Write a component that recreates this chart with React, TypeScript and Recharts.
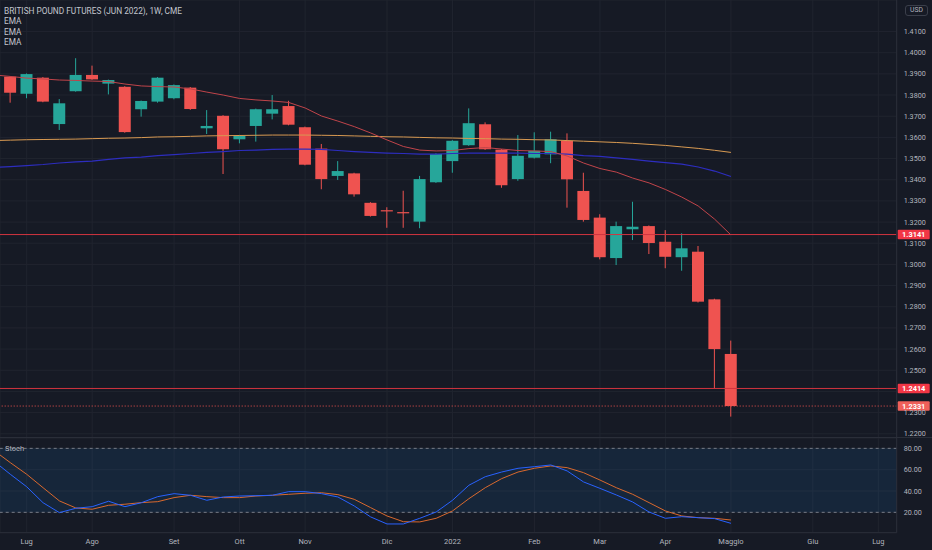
import React from 'react';
import { ComposedChart, Bar, Line, XAxis, YAxis, CartesianGrid, ReferenceLine, ReferenceArea } from 'recharts';

// weekly bars, index 0 = week of 28 Jun 2021 (index -1 is the half-hidden bar on the left edge)
const weeks = [-1, 0, 1, 2, 3, 4, 5, 6, 7, 8, 9, 10, 11, 12, 13, 14, 15, 16, 17, 18, 19, 20, 21, 22, 23, 24, 25, 26, 27, 28, 29, 30, 31, 32, 33, 34, 35, 36, 37, 38, 39, 40, 41, 42, 43, 44];

const opens = [1.3942, 1.3887, 1.3806, 1.3882, 1.3663, 1.3818, 1.3895, 1.3854, 1.3839, 1.3733, 1.3769, 1.3785, 1.3835, 1.3643, 1.3702, 1.3591, 1.3654, 1.3712, 1.3748, 1.3648, 1.3547, 1.3418, 1.3430, 1.3291, 1.3256, 1.3247, 1.3202, 1.3388, 1.3488, 1.3563, 1.3662, 1.3542, 1.3403, 1.3504, 1.3520, 1.3584, 1.3347, 1.3221, 1.3030, 1.3166, 1.3181, 1.3107, 1.3034, 1.3060, 1.2835, 1.2577];
const highs = [1.3958, 1.3890, 1.3902, 1.3885, 1.3781, 1.3974, 1.3939, 1.3873, 1.3842, 1.3774, 1.3885, 1.3850, 1.3838, 1.3729, 1.3705, 1.3612, 1.3736, 1.3800, 1.3773, 1.3651, 1.3569, 1.3488, 1.3433, 1.3294, 1.3270, 1.3348, 1.3418, 1.3525, 1.3587, 1.3737, 1.3671, 1.3545, 1.3611, 1.3624, 1.3627, 1.3619, 1.3433, 1.3237, 1.3202, 1.3296, 1.3184, 1.3162, 1.3147, 1.3087, 1.2838, 1.2640];
const lows = [1.3872, 1.3764, 1.3785, 1.3766, 1.3635, 1.3816, 1.3872, 1.3803, 1.3622, 1.3698, 1.3764, 1.3780, 1.3730, 1.3616, 1.3427, 1.3572, 1.3580, 1.3685, 1.3657, 1.3468, 1.3355, 1.3399, 1.3320, 1.3226, 1.3173, 1.3173, 1.3171, 1.3385, 1.3433, 1.3560, 1.3541, 1.3362, 1.3395, 1.3500, 1.3478, 1.3268, 1.3202, 1.3024, 1.2997, 1.3115, 1.3049, 1.2982, 1.2970, 1.2820, 1.2415, 1.2281];
const closes = [1.3879, 1.3811, 1.3899, 1.3769, 1.3761, 1.3895, 1.3874, 1.3871, 1.3625, 1.3772, 1.3882, 1.3847, 1.3734, 1.3654, 1.3544, 1.3607, 1.3733, 1.3733, 1.3660, 1.3471, 1.3403, 1.3441, 1.3331, 1.3229, 1.3252, 1.3243, 1.3403, 1.3522, 1.3584, 1.3667, 1.3544, 1.3374, 1.3513, 1.3537, 1.3591, 1.3402, 1.3210, 1.3034, 1.3181, 1.3178, 1.3101, 1.3036, 1.3076, 1.2824, 1.2600, 1.2331];

const emaFast = [1.3895, 1.3888, 1.3880, 1.3876, 1.3871, 1.3869, 1.3866, 1.3864, 1.3852, 1.3843, 1.3840, 1.3838, 1.3829, 1.3814, 1.3800, 1.3784, 1.3777, 1.3772, 1.3765, 1.3739, 1.3701, 1.3677, 1.3651, 1.3621, 1.3588, 1.3557, 1.3540, 1.3536, 1.3538, 1.3547, 1.3552, 1.3545, 1.3538, 1.3536, 1.3533, 1.3512, 1.3479, 1.3453, 1.3436, 1.3408, 1.3385, 1.3354, 1.3318, 1.3276, 1.3214, 1.3139];
const emaMid = [1.3458, 1.3462, 1.3467, 1.3472, 1.3479, 1.3484, 1.3488, 1.3496, 1.3503, 1.3507, 1.3514, 1.3519, 1.3524, 1.3529, 1.3533, 1.3538, 1.3540, 1.3543, 1.3545, 1.3545, 1.3543, 1.3538, 1.3533, 1.3529, 1.3526, 1.3524, 1.3521, 1.3521, 1.3524, 1.3526, 1.3526, 1.3526, 1.3526, 1.3524, 1.3524, 1.3521, 1.3514, 1.3510, 1.3503, 1.3496, 1.3488, 1.3481, 1.3474, 1.3460, 1.3441, 1.3415];
const emaSlow = [1.3585, 1.3587, 1.3589, 1.3590, 1.3591, 1.3592, 1.3594, 1.3596, 1.3597, 1.3599, 1.3602, 1.3603, 1.3605, 1.3607, 1.3608, 1.3609, 1.3610, 1.3611, 1.3611, 1.3611, 1.3610, 1.3609, 1.3607, 1.3605, 1.3603, 1.3602, 1.3600, 1.3598, 1.3597, 1.3595, 1.3594, 1.3592, 1.3591, 1.3589, 1.3588, 1.3585, 1.3582, 1.3579, 1.3576, 1.3572, 1.3567, 1.3562, 1.3555, 1.3548, 1.3539, 1.3529];

const stochK = [68, 55.7, 44, 29, 19.7, 23.8, 25.3, 30.4, 25.3, 29, 34.7, 37.5, 36, 31.3, 34.4, 35.3, 35.6, 36, 39.4, 39.4, 37.5, 34.4, 26, 15.7, 9.1, 9.1, 14.4, 20.3, 31.3, 45.4, 53.4, 57.8, 61.3, 62.8, 64.4, 58.8, 48.5, 42.5, 36.3, 29.7, 20.3, 14.4, 15.9, 15, 14.1, 9.7];
const stochD = [78, 66.6, 55.7, 43.1, 30.7, 24.1, 22.9, 26.6, 27.6, 29.1, 30, 33.8, 36, 34.7, 33.8, 33.8, 35.3, 36, 36.9, 37.9, 38.4, 36.6, 32.2, 24.4, 16.6, 11.2, 11, 14.4, 21.3, 32.8, 43.1, 51.6, 57.8, 61.3, 63.5, 61.9, 57.2, 50.3, 43.1, 36.9, 29.1, 21.3, 16.6, 15, 14.4, 12.8];

const monthTicks = [1, 5, 10, 14, 18, 23, 27, 32, 36, 40, 44, 49, 53];
const monthLabels = ['Lug', 'Ago', 'Set', 'Ott', 'Nov', 'Dic', '2022', 'Feb', 'Mar', 'Apr', 'Maggio', 'Giu', 'Lug'];
const priceTicks = [1.22, 1.23, 1.24, 1.25, 1.26, 1.27, 1.28, 1.29, 1.30, 1.31, 1.32, 1.33, 1.34, 1.35, 1.36, 1.37, 1.38, 1.39, 1.40, 1.41];
const hiddenPriceTicks = [1.24]; // covered by the 1.2414 tag in the original
const stochTicks = [20, 40, 60, 80];
const levels = [1.3141, 1.2414];
const lastPrice = 1.2331;

const rows = weeks.map((i, n) => ({
  i,
  open: opens[n],
  high: highs[n],
  low: lows[n],
  close: closes[n],
  emaFast: emaFast[n],
  emaMid: emaMid[n],
  emaSlow: emaSlow[n],
  k: stochK[n],
  d: stochD[n],
}));

const W = 932;
const PRICE_H = 438;
const STOCH_H = 112;
const AXIS_W = 35.3;
const X_DOMAIN: [number, number] = [-0.629, 54.12];
const BG = '#161a25';
const GRID = '#20242f';
const TEXT = '#b2b5be';
const UP = '#26a69a';
const DOWN = '#ef5350';
const FONT = 'Roboto, "Noto Sans", sans-serif';

const Candle = (props: any) => {
  const { x, y, width, height, payload } = props;
  if (x == null || !payload) return null;
  const top = Math.min(y, y + height);
  const h = Math.abs(height);
  const k = h / (payload.high - payload.low || 1);
  const yo = top + (payload.high - payload.open) * k;
  const yc = top + (payload.high - payload.close) * k;
  const color = payload.close >= payload.open ? UP : DOWN;
  const cx = x + width / 2;
  return (
    <g>
      <line x1={cx} x2={cx} y1={top} y2={top + h} stroke={color} strokeWidth={1} />
      <rect x={x} y={Math.min(yo, yc)} width={width} height={Math.max(Math.abs(yc - yo), 1.2)} fill={color} />
    </g>
  );
};

const PriceTick = (props: any) => {
  const { x, y, payload } = props;
  if (hiddenPriceTicks.some((t) => Math.abs(t - payload.value) < 1e-6)) return null;
  return (
    <text x={x} y={y} dy={2.5} textAnchor="start" fill={TEXT} fontSize={7.2} fontFamily={FONT}>
      {payload.value.toFixed(4)}
    </text>
  );
};

const LevelTag = (props: any) => {
  const { viewBox, tag, color } = props;
  if (!viewBox) return null;
  const bx = viewBox.x + viewBox.width + 1;
  return (
    <g>
      <rect x={bx} y={viewBox.y - 4.8} width={32} height={9.6} fill={color} rx={1} />
      <text x={bx + 16} y={viewBox.y} dy={2.6} textAnchor="middle" fill="#ffffff" fontSize={7.4} fontWeight={700} fontFamily={FONT}>
        {tag}
      </text>
    </g>
  );
};

const labelStyle: React.CSSProperties = {
  position: 'absolute',
  left: 4,
  color: '#c3c6ce',
  fontSize: 8.3,
  fontFamily: FONT,
  lineHeight: '10px',
  whiteSpace: 'nowrap',
};

export default function App() {
  return (
    <div style={{ position: 'absolute', left: 0, top: 0, width: W, height: 550, background: BG, overflow: 'hidden', fontFamily: FONT }}>
      <div style={{ position: 'absolute', left: 0, top: 0 }}>
        <ComposedChart width={W} height={PRICE_H} data={rows} margin={{ top: 0, right: 0, bottom: 0, left: 0 }}>
          <CartesianGrid stroke={GRID} strokeWidth={1} />
          <XAxis type="number" dataKey="i" domain={X_DOMAIN} ticks={monthTicks} interval={0} hide allowDataOverflow />
          <YAxis
            orientation="right"
            width={AXIS_W}
            domain={[1.218, 1.4249]}
            ticks={priceTicks}
            interval={0}
            allowDataOverflow
            tick={<PriceTick />}
            tickLine={false}
            tickSize={0}
            tickMargin={7}
            axisLine={{ stroke: '#2a2e39' }}
          />
          <Line type="linear" dataKey="emaSlow" stroke="#d99a52" strokeWidth={1} dot={false} isAnimationActive={false} />
          <Line type="linear" dataKey="emaMid" stroke="#2d2dbf" strokeWidth={1.2} dot={false} isAnimationActive={false} />
          <Line type="linear" dataKey="emaFast" stroke="#c0444a" strokeWidth={1} dot={false} isAnimationActive={false} />
          <Bar dataKey={(d: any) => [d.low, d.high]} shape={<Candle />} barSize={12} isAnimationActive={false} />
          {levels.map((lv) => (
            <ReferenceLine key={lv} y={lv} stroke="#d0343f" strokeWidth={1} label={<LevelTag tag={lv.toFixed(4)} color="#f23645" />} />
          ))}
          <ReferenceLine y={lastPrice} stroke={DOWN} strokeWidth={1} strokeDasharray="1 2" label={<LevelTag tag={lastPrice.toFixed(4)} color="#f0605a" />} />
        </ComposedChart>
      </div>

      <div style={{ position: 'absolute', left: 0, top: PRICE_H - 1, width: W, height: 1, background: '#2a2e39' }} />

      <div style={{ position: 'absolute', left: 0, top: PRICE_H }}>
        <ComposedChart width={W} height={STOCH_H} data={rows} margin={{ top: 0, right: 0, bottom: 0, left: 0 }}>
          <ReferenceArea y1={20} y2={80} fill="#2196f3" fillOpacity={0.1} stroke="none" />
          <CartesianGrid stroke={GRID} strokeWidth={1} />
          <XAxis
            type="number"
            dataKey="i"
            domain={X_DOMAIN}
            ticks={monthTicks}
            interval={0}
            allowDataOverflow
            height={17.3}
            tickFormatter={(v: number) => monthLabels[monthTicks.indexOf(v)]}
            tick={{ fill: TEXT, fontSize: 7.5, fontFamily: FONT }}
            tickLine={false}
            tickSize={0}
            tickMargin={6}
            axisLine={{ stroke: '#2a2e39' }}
          />
          <YAxis
            orientation="right"
            width={AXIS_W}
            domain={[0.9, 89.7]}
            ticks={stochTicks}
            interval={0}
            allowDataOverflow
            tickFormatter={(v: number) => v.toFixed(2)}
            tick={{ fill: TEXT, fontSize: 7.2, fontFamily: FONT }}
            tickLine={false}
            tickSize={0}
            tickMargin={7}
            axisLine={{ stroke: '#2a2e39' }}
          />
          <ReferenceLine y={80} stroke="#787b86" strokeDasharray="3 3" />
          <ReferenceLine y={20} stroke="#787b86" strokeDasharray="3 3" />
          <Line type="linear" dataKey="d" stroke="#d9692e" strokeWidth={1} dot={false} isAnimationActive={false} />
          <Line type="linear" dataKey="k" stroke="#2962ff" strokeWidth={1} dot={false} isAnimationActive={false} />
        </ComposedChart>
      </div>

      <div style={{ ...labelStyle, top: 6 }}>BRITISH POUND FUTURES (JUN 2022), 1W, CME</div>
      <div style={{ ...labelStyle, top: 16 }}>EMA</div>
      <div style={{ ...labelStyle, top: 27 }}>EMA</div>
      <div style={{ ...labelStyle, top: 37 }}>EMA</div>
      <div style={{ ...labelStyle, top: 444, left: 5, color: TEXT, fontSize: 7.5 }}>Stoch</div>
      <div
        style={{
          position: 'absolute',
          left: 905,
          top: 5,
          width: 21,
          height: 9,
          border: '1px solid #3a3e4a',
          borderRadius: 3,
          color: TEXT,
          fontSize: 6.8,
          lineHeight: '9px',
          textAlign: 'center',
          fontFamily: FONT,
        }}
      >
        USD
      </div>
    </div>
  );
}
